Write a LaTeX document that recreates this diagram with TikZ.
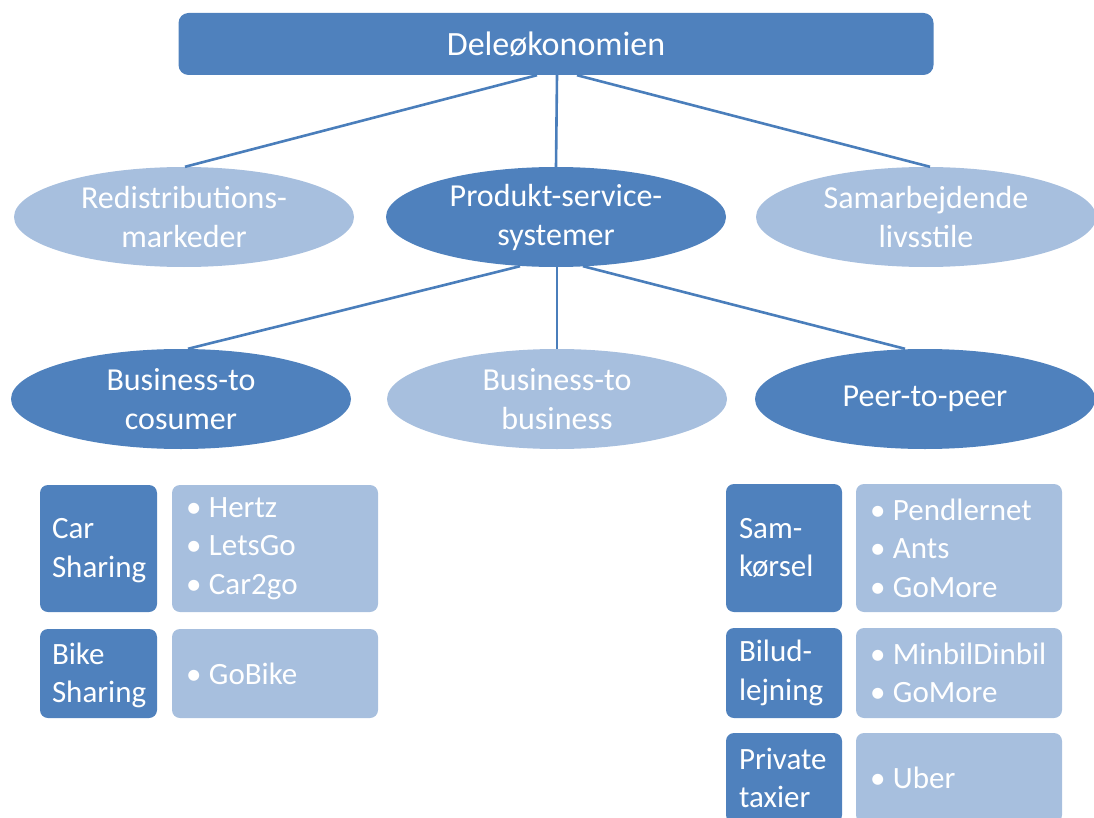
\documentclass[tikz,border=0pt]{standalone}
\usepackage{fontspec}
\setmainfont{Carlito}
\usetikzlibrary{shapes.geometric}
\definecolor{dk}{HTML}{4F81BD}
\definecolor{lt}{HTML}{A7BFDE}
\definecolor{ln}{HTML}{4A7EBB}
\newcommand\itm[1]{\makebox[23pt][l]{•}#1}
\begin{document}
\begin{tikzpicture}[x=1pt,y=-1pt,
  conn/.style={draw=ln,line width=2.6pt},
  topbox/.style={rectangle,rounded corners=10pt,fill=dk,minimum width=755pt,minimum height=62pt,text=white,font=\fontsize{34}{40}\selectfont,inner sep=0pt},
  ell/.style={ellipse,minimum width=340pt,minimum height=100pt,inner sep=0pt,text=white,align=center,font=\fontsize{32}{39}\selectfont},
  ellD/.style={ell,fill=dk},
  ellL/.style={ell,fill=lt},
  dbox/.style={rectangle,rounded corners=8pt,fill=dk,inner sep=0pt},
  lbox/.style={rectangle,rounded corners=8pt,fill=lt,inner sep=0pt},
  btxt/.style={inner sep=0pt,align=left,text=white,font=\fontsize{31}{38.5}\selectfont,anchor=west},
]
\useasboundingbox (0,0) rectangle (1094,818);
\clip (0,0) rectangle (1094,818);

\node[topbox] (top) at (556,44) {Deleøkonomien};

\node[ellL] (red) at (184,217) {Redistributions-\\markeder};
\node[ellD] (pss) at (556,217) {Produkt-service-\\systemer};
\node[ellL] (sam) at (926,217) {Samarbejdende\\livsstile};

\node[ellD] (b2c) at (181,399) {Business-to\\cosumer};
\node[ellL] (b2b) at (557,399) {Business-to\\business};
\node[ellD] (p2p) at (925,399) {Peer-to-peer};

\draw[conn] ([xshift=-19pt]top.south) -- ([xshift=1pt]red.north);
\draw[conn] ([xshift=1pt]top.south) -- (pss.north);
\draw[conn] ([xshift=21pt]top.south) -- ([xshift=4pt]sam.north);
\draw[conn] ([xshift=-36pt,yshift=1pt]pss.south) -- ([xshift=7pt]b2c.north);
\draw[conn] ([xshift=1pt]pss.south) -- (b2b.north);
\draw[conn] ([xshift=27pt,yshift=1pt]pss.south) -- ([xshift=-20pt]p2p.north);

% left group
\node[dbox,minimum width=117pt,minimum height=127pt] (car) at (98.5,548.5) {};
\node[lbox,minimum width=206pt,minimum height=127pt] (carl) at (275,548.5) {};
\node[dbox,minimum width=117pt,minimum height=89pt] (bike) at (98.5,673.5) {};
\node[lbox,minimum width=206pt,minimum height=89pt] (bikel) at (275,673.5) {};

\node[btxt] (cart) at ([xshift=12pt,yshift=-2pt]car.west) {Car\\Sharing};
\node[btxt] (carlt) at ([xshift=14pt]carl.west) {\itm{Hertz}\\\itm{LetsGo}\\\itm{Car2go}};
\node[btxt] (biket) at ([xshift=12pt,yshift=-2pt]bike.west) {Bike\\Sharing};
\node[btxt] (bikelt) at ([xshift=14pt]bikel.west) {\itm{GoBike}};

% right group
\node[dbox,minimum width=116pt,minimum height=128pt] (samk) at (784,548) {};
\node[lbox,minimum width=206pt,minimum height=128pt] (samkl) at (959,548) {};
\node[dbox,minimum width=116pt,minimum height=90pt] (bilud) at (784,673) {};
\node[lbox,minimum width=206pt,minimum height=90pt] (biludl) at (959,673) {};
\node[dbox,minimum width=116pt,minimum height=90pt] (priv) at (784,778) {};
\node[lbox,minimum width=206pt,minimum height=90pt] (privl) at (959,778) {};

\node[btxt] (samkt) at ([xshift=13pt]samk.west) {Sam-\\kørsel};
\node[btxt] (samklt) at ([xshift=14pt]samkl.west) {\itm{Pendlernet}\\\itm{Ants}\\\itm{GoMore}};
\node[btxt] (biludt) at ([xshift=13pt]bilud.west) {Bilud-\\lejning};
\node[btxt] (biludlt) at ([xshift=14pt]biludl.west) {\itm{MinbilDinbil}\\\itm{GoMore}};
\node[btxt] (privt) at ([xshift=13pt]priv.west) {Private\\taxier};
\node[btxt] (privlt) at ([xshift=14pt]privl.west) {\itm{Uber}};
\end{tikzpicture}
\end{document}
